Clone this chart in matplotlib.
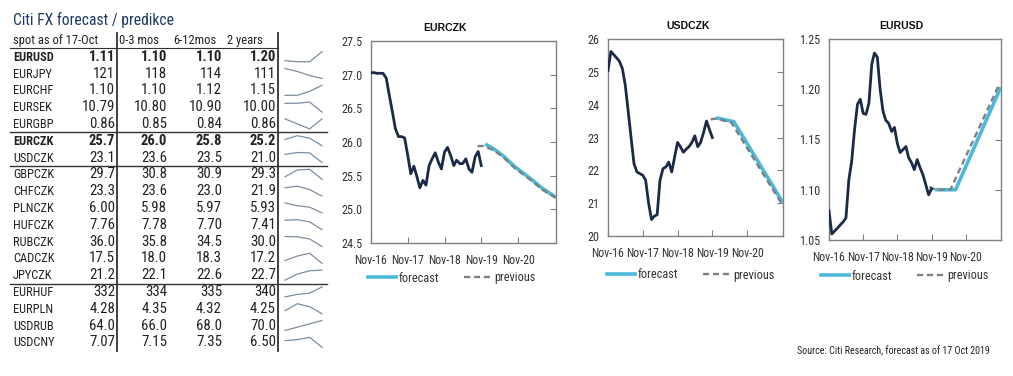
import matplotlib
matplotlib.use('Agg')
import matplotlib.pyplot as plt
import matplotlib.dates as mdates
from matplotlib import font_manager
from matplotlib.font_manager import FontProperties
from matplotlib.lines import Line2D
import numpy as np
import pandas as pd

# ---------------- data: table ----------------
pairs = ['EURUSD', 'EURJPY', 'EURCHF', 'EURSEK', 'EURGBP', 'EURCZK', 'USDCZK',
         'GBPCZK', 'CHFCZK', 'PLNCZK', 'HUFCZK', 'RUBCZK', 'CADCZK', 'JPYCZK',
         'EURHUF', 'EURPLN', 'USDRUB', 'USDCNY']
spot = ['1.11', '121', '1.10', '10.79', '0.86', '25.7', '23.1', '29.7', '23.3', '6.00',
        '7.76', '36.0', '17.5', '21.2', '332', '4.28', '64.0', '7.07']
fc_0_3 = ['1.10', '118', '1.10', '10.80', '0.85', '26.0', '23.6', '30.8', '23.6', '5.98',
          '7.78', '35.8', '18.0', '22.1', '334', '4.35', '66.0', '7.15']
fc_6_12 = ['1.10', '114', '1.12', '10.90', '0.84', '25.8', '23.5', '30.9', '23.0', '5.97',
           '7.70', '34.5', '18.3', '22.6', '335', '4.32', '68.0', '7.35']
fc_2y = ['1.20', '111', '1.15', '10.00', '0.86', '25.2', '21.0', '29.3', '21.9', '5.93',
         '7.41', '30.0', '17.2', '22.7', '340', '4.25', '70.0', '6.50']
bold_pairs = ['EURUSD', 'EURCZK']
group_starts = ['EURCZK', 'GBPCZK', 'EURHUF']
headers = ['spot as of 17-Oct', '0-3 mos', '6-12mos', '2 years']
table_title = 'Citi FX forecast / predikce'
source_text = 'Source: Citi Research, forecast as of 17 Oct 2019'

# ---------------- data: charts ----------------
hist_dates = pd.date_range('2016-11-01', periods=37, freq='MS')
eurczk_hist = [27.03, 27.03, 27.02, 27.02, 27.02, 26.95, 26.70, 26.45, 26.20, 26.08,
               26.08, 26.06, 25.80, 25.53, 25.64, 25.48, 25.32, 25.43, 25.36, 25.65,
               25.75, 25.84, 25.70, 25.60, 25.85, 25.92, 25.80, 25.65, 25.73, 25.68,
               25.68, 25.75, 25.60, 25.55, 25.78, 25.86, 25.65]
eurczk_fc_dates = ['2019-12-10', '2020-03-01', '2020-06-01', '2020-10-01', '2021-03-01',
                   '2021-07-01', '2021-11-10']
eurczk_fc = [25.97, 25.90, 25.80, 25.63, 25.46, 25.31, 25.18]
eurczk_pv_dates = ['2019-09-25', '2019-11-20', '2020-03-01', '2020-06-01', '2020-10-01',
                   '2021-03-01', '2021-07-01', '2021-11-10']
eurczk_pv = [25.94, 25.94, 25.88, 25.78, 25.61, 25.44, 25.29, 25.17]

usdczk_hist = [25.04, 25.62, 25.52, 25.42, 25.32, 25.10, 24.60, 23.80, 23.00, 22.20,
               21.95, 21.90, 21.85, 21.70, 21.00, 20.50, 20.60, 20.65, 21.70, 22.05,
               22.10, 22.25, 21.95, 22.40, 22.85, 22.72, 22.55, 22.65, 22.72, 22.85,
               23.05, 22.72, 22.85, 23.15, 23.50, 23.25, 23.00]
usdczk_fc_dates = ['2019-12-10', '2020-06-15', '2021-11-10']
usdczk_fc = [23.60, 23.48, 21.02]
usdczk_pv_dates = ['2019-10-15', '2019-12-10', '2020-05-20', '2021-11-05']
usdczk_pv = [23.55, 23.58, 23.45, 20.95]

eurusd_hist = [1.079, 1.056, 1.059, 1.062, 1.065, 1.068, 1.072, 1.110, 1.128, 1.160,
               1.185, 1.190, 1.176, 1.175, 1.186, 1.225, 1.236, 1.232, 1.200, 1.178,
               1.169, 1.166, 1.158, 1.162, 1.146, 1.137, 1.140, 1.143, 1.132, 1.127,
               1.120, 1.130, 1.122, 1.115, 1.105, 1.095, 1.101]
eurusd_fc_dates = ['2019-12-10', '2020-07-15', '2021-11-10']
eurusd_fc = [1.100, 1.100, 1.202]
eurusd_pv_dates = ['2019-10-10', '2019-12-10', '2020-05-20', '2021-10-15']
eurusd_pv = [1.103, 1.100, 1.100, 1.203]

xtick_dates = ['2016-11-01', '2017-11-01', '2018-11-01', '2019-11-01', '2020-11-01']
x_range = ['2016-11-01', '2021-11-12']

# ---------------- fonts ----------------
REG = 'Liberation Sans'
fams = {f.name for f in font_manager.fontManager.ttflist}
narrow_family, narrow_stretch = None, 'normal'
for c in ['Liberation Sans Narrow', 'Arial Narrow', 'Roboto Condensed', 'Open Sans Condensed',
          'Noto Sans Condensed']:
    if c in fams:
        narrow_family = c
        break
if narrow_family is None:
    for pref in ['Liberation Sans', 'Roboto', 'Noto Sans', 'Open Sans', 'Lato', 'Inter',
                 'DejaVu Sans']:
        hits = [f for f in font_manager.fontManager.ttflist
                if f.name == pref and str(f.stretch) in ('condensed', 'semi-condensed',
                                                         'extra-condensed')]
        if hits:
            narrow_family, narrow_stretch = pref, str(hits[0].stretch)
            break
if narrow_family is None:
    narrow_family = REG

NAVY = '#1b2a47'
CYAN = '#4bb9da'
GRAY = '#808080'
SPARK = '#7d8da2'
LINE = '#333333'
TITLE_BLUE = '#1f3864'
TXT = '#222222'

W, H = 1013, 376
fig = plt.figure(figsize=(W / 100, H / 100), dpi=100)
fig.patch.set_facecolor('white')
renderer = fig.canvas.get_renderer()


def fprop(size=10, weight='normal', family=None, stretch=None):
    return FontProperties(family=family or narrow_family, size=size, weight=weight,
                          stretch=stretch or narrow_stretch)


def fit_size(s, target_px, max_size, weight='normal', family=None, stretch=None):
    w, _, _ = renderer.get_text_width_height_descent(s, fprop(10, weight, family, stretch),
                                                     ismath=False)
    return min(max_size, 10 * target_px / w)


# ---------------- table ----------------
tab = fig.add_axes([0, 0, 1, 1])
tab.set_xlim(0, W)
tab.set_ylim(H, 0)
tab.axis('off')

row_y0, row_dy = 56.7, 16.8
name_x = 13
val_right = [115, 167, 222, 276]
head_x = [13, 119, 173, 227]
spark_x = np.linspace(285, 322, 4)

s_title = fit_size(table_title, 160, 12.5)
s_head = fit_size(headers[0], 84, 9.8)
s_name = fit_size('EURJPY', 40, 8.9)
s_val = fit_size('10.79', 33, 12.4)
s_valb = fit_size('10.79', 34, 12.4, weight='bold')

tab.text(13, 20, table_title, fontproperties=fprop(s_title), color=TITLE_BLUE,
         va='center', ha='left')
for hx, h in zip(head_x, headers):
    tab.text(hx, 40.5, h, fontproperties=fprop(s_head), color=TXT, va='center', ha='left')

for i, p in enumerate(pairs):
    y = row_y0 + i * row_dy
    bold = p in bold_pairs
    wt = 'bold' if bold else 'normal'
    tab.text(name_x, y + 0.5, p, fontproperties=fprop(s_name, wt), color=TXT,
             va='center', ha='left')
    vals = [spot[i], fc_0_3[i], fc_6_12[i], fc_2y[i]]
    for xr, v in zip(val_right, vals):
        tab.text(xr, y, v, fontproperties=fprop(s_valb if bold else s_val, wt), color=TXT,
                 va='center', ha='right')
    num = np.array([float(v) for v in vals])
    span = num.max() - num.min()
    norm = (num - num.min()) / span if span > 0 else np.full(4, 0.5)
    tab.plot(spark_x, y + 5 - 10 * norm, color=SPARK, lw=0.9)

tab.plot([10, 278], [row_y0 - 0.5 * row_dy] * 2, color=LINE, lw=0.8)
for g in group_starts:
    yy = row_y0 + (pairs.index(g) - 0.5) * row_dy
    tab.plot([10, 327], [yy, yy], color=LINE, lw=1.0)
bottom = row_y0 + (len(pairs) - 0.5) * row_dy
tab.plot([117, 117], [33, bottom], color=LINE, lw=1.3)
tab.plot([278, 278], [33, bottom], color=LINE, lw=1.3)

s_src = fit_size(source_text, 193, 7.6)
tab.text(990, 351, source_text, fontproperties=fprop(s_src), color=TXT,
         ha='right', va='center')

# ---------------- charts ----------------
s_xt = fit_size('Nov-17', 33, 9.2)
s_yt = fit_size('1.25', 21, 9.8)
s_leg = fit_size('forecast', 40, 9.6)
leg_px = s_leg * 100 / 72


def px_rect(l, t, r, b):
    return [l / W, 1 - b / H, (r - l) / W, (b - t) / H]


def chart(rect, title, title_x, hist, fc_d, fc_v, pv_d, pv_v, ylim, yticks, yfmt, leg_c):
    ax = fig.add_axes(rect)
    ax.plot(pd.to_datetime(fc_d), fc_v, color=CYAN, lw=2.6, solid_capstyle='butt', zorder=3)
    ax.plot(pd.to_datetime(pv_d), pv_v, color=GRAY, lw=1.7, ls=(0, (2.6, 1.6)), zorder=4)
    ax.plot(hist_dates, hist, color=NAVY, lw=2.0, zorder=5)
    ax.set_xlim(pd.to_datetime(x_range[0]), pd.to_datetime(x_range[1]))
    ax.set_ylim(*ylim)
    ax.set_yticks(yticks)
    ax.set_yticklabels([yfmt.format(v) for v in yticks])
    ax.set_xticks(pd.to_datetime(xtick_dates))
    ax.xaxis.set_major_formatter(mdates.DateFormatter('%b-%y'))
    ax.yaxis.set_ticks_position('right')
    ax.tick_params(axis='y', direction='in', length=4, color=GRAY, labelleft=True,
                   labelright=False, pad=6, labelcolor='#333333')
    ax.tick_params(axis='x', direction='in', length=4, color=GRAY, pad=8,
                   labelcolor='#333333')
    for lab in ax.get_xticklabels():
        lab.set_fontproperties(fprop(s_xt))
    for lab in ax.get_yticklabels():
        lab.set_fontproperties(fprop(s_yt))
    for s in ax.spines.values():
        s.set_color(GRAY)
        s.set_linewidth(1.0)
    ax.set_title(title, x=title_x, pad=7, fontsize=7.6, weight='bold', family=REG,
                 color='#111111')
    handles = [Line2D([], [], color=CYAN, lw=2.6),
               Line2D([], [], color=GRAY, lw=1.7, ls=(0, (2.6, 1.6)))]
    leg = ax.legend(handles, ['forecast', 'previous'], loc='center',
                    bbox_to_anchor=(leg_c[0] / W, 1 - leg_c[1] / H),
                    bbox_transform=fig.transFigure, ncol=2, frameon=False,
                    handlelength=28 / leg_px, handletextpad=3 / leg_px,
                    columnspacing=24 / leg_px, borderpad=0.2, prop=fprop(s_leg))
    for t in leg.get_texts():
        t.set_color('#333333')
    return ax


chart(px_rect(371, 41, 556, 243), 'EURCZK', 0.40, eurczk_hist, eurczk_fc_dates, eurczk_fc,
      eurczk_pv_dates, eurczk_pv, (24.5, 27.5), [24.5, 25.0, 25.5, 26.0, 26.5, 27.0, 27.5],
      '{:.1f}', (452, 278))
chart(px_rect(608, 39, 783, 236), 'USDCZK', 0.46, usdczk_hist, usdczk_fc_dates, usdczk_fc,
      usdczk_pv_dates, usdczk_pv, (20, 26), [20, 21, 22, 23, 24, 25, 26], '{:.0f}',
      (691, 275))
chart(px_rect(829, 39, 1001, 240), 'EURUSD', 0.42, eurusd_hist, eurusd_fc_dates, eurusd_fc,
      eurusd_pv_dates, eurusd_pv, (1.05, 1.25), [1.05, 1.10, 1.15, 1.20, 1.25], '{:.2f}',
      (905, 276))

fig.savefig('out.png', dpi=100, facecolor='white')
